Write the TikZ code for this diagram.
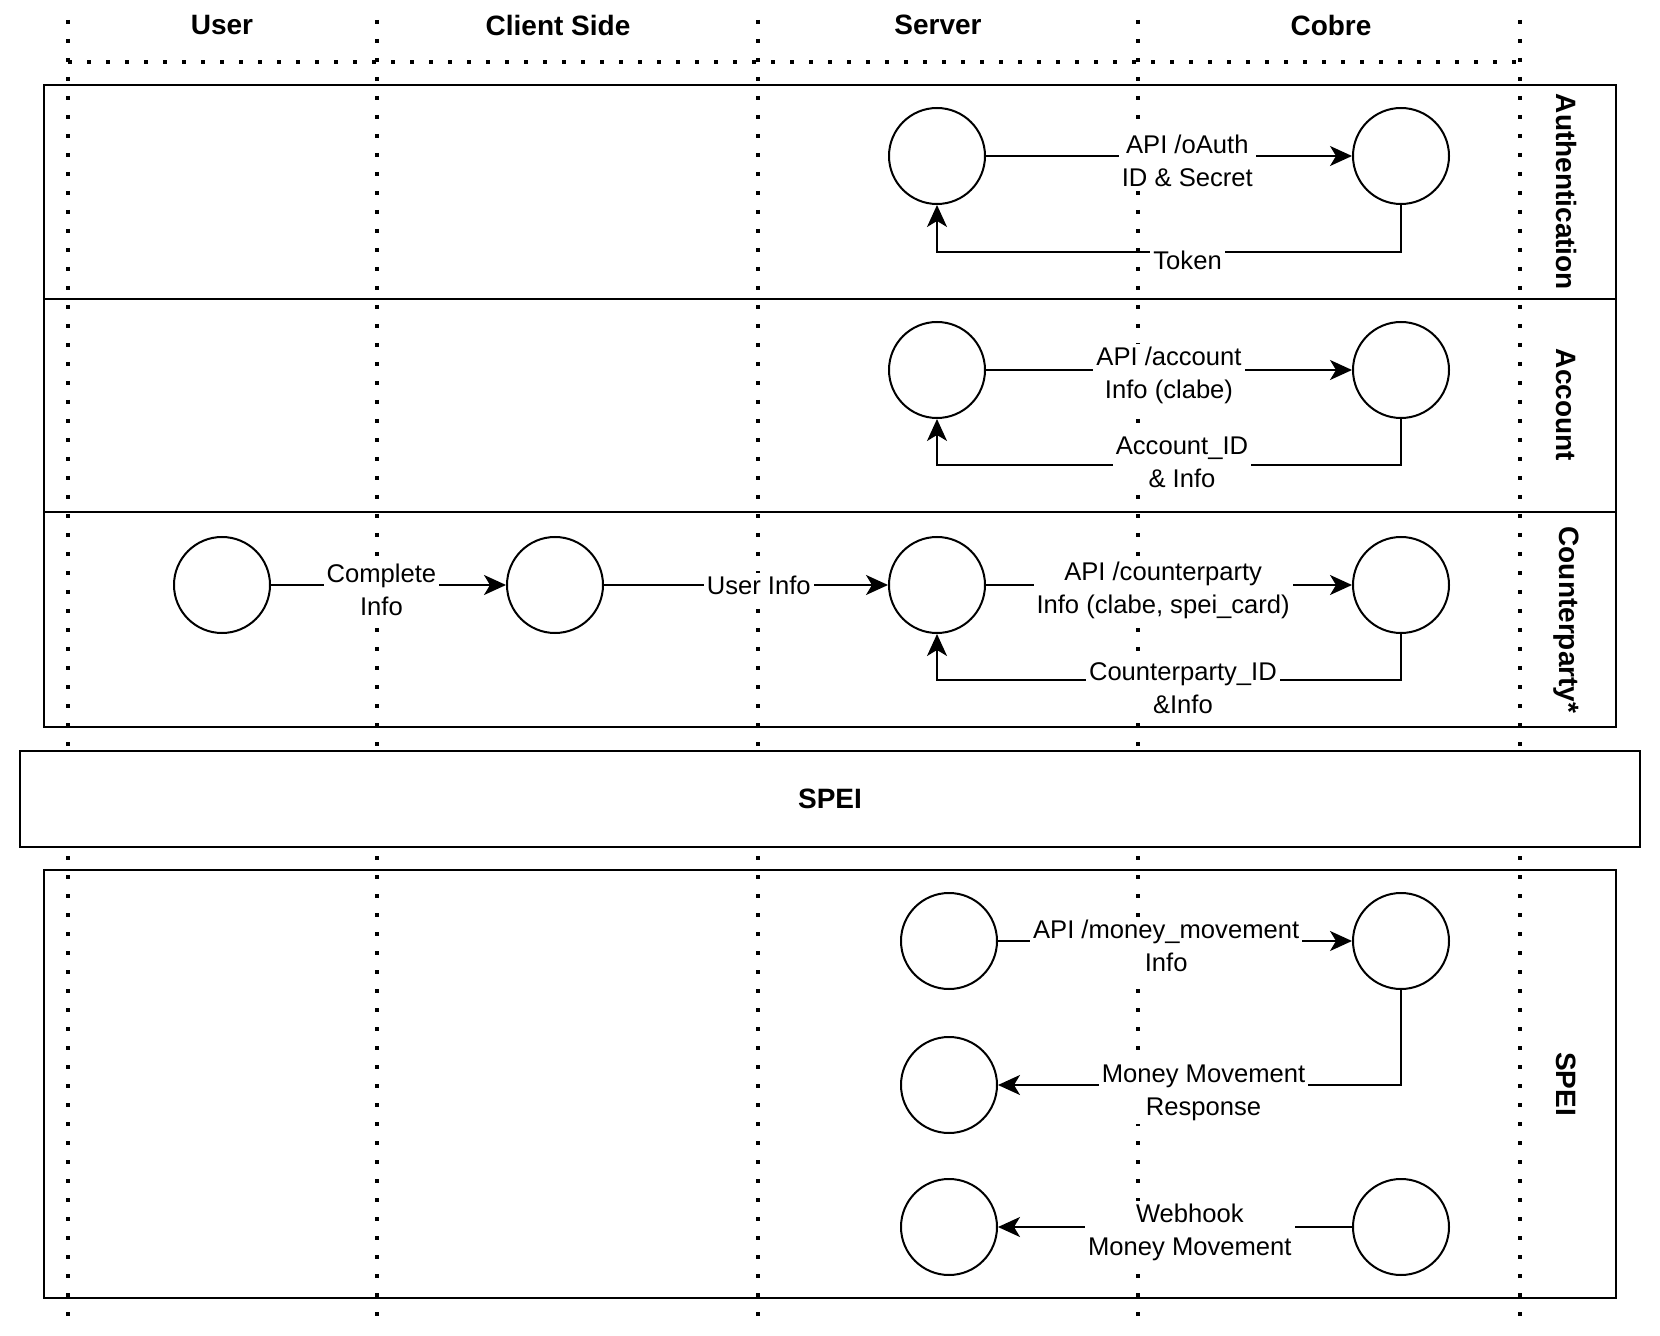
\documentclass[tikz,border=0pt]{standalone}
\usepackage{fontspec}
\setmainfont{Liberation Sans}
\usetikzlibrary{arrows.meta}
\begin{document}
\begin{tikzpicture}[>={Stealth[length=11pt,width=10pt,inset=3pt]},x=0.5pt,y=-0.5pt,line width=1pt,
	lane/.style={line width=2pt,dash pattern=on 2pt off 7.5pt},
	actor/.style={draw,circle,fill=white,minimum size=48pt,inner sep=0pt},
	msg/.style={fill=white,align=center,inner sep=1.5pt,yshift=-2.5pt,font=\fontsize{12.8}{16.5}\selectfont},
	head/.style={font=\bfseries\fontsize{14}{17}\selectfont},
	tag/.style={head,rotate=-90}]
	\useasboundingbox (0,0) rectangle (1660,1336);
	% swimlane separators
	\foreach \x in {68,377,758,1138,1520} \draw[lane] (\x,20)--(\x,1322);
	\draw[lane] (68,62)--(1520,62);
	\node[head] (hUser) at (222,25) {User};
	\node[head] (hClient) at (558,25) {Client Side};
	\node[head] (hServer) at (938,25) {Server};
	\node[head] (hCobre) at (1331,25) {Cobre};
	% phases
	\draw (44,85) rectangle (1616,727) (44,299)--(1616,299) (44,512)--(1616,512);
	\draw (44,870) rectangle (1616,1298);
	\node[draw,fill=white,minimum width=810pt,minimum height=48pt,head] (spei) at (830,799) {SPEI};
	\node[tag] at (1566,192) {Authentication};
	\node[tag] at (1566,405) {Account};
	\node[tag] at (1566,620) {Counterparty*};
	\node[tag] at (1566,1084) {SPEI};
	% authentication
	\node[actor] (sa) at (937,156) {};
	\node[actor] (ca) at (1401,156) {};
	\draw[->] (sa)--node[msg,pos=0.55]{API /oAuth\\ID \& Secret}(ca);
	\draw[->] (ca.south)--++(0,47)-|node[msg,pos=0.23,yshift=-1.5pt]{Token}(sa.south);
	% account
	\node[actor] (sb) at (937,370) {};
	\node[actor] (cb) at (1401,370) {};
	\draw[->] (sb)--node[msg]{API /account\\Info (clabe)}(cb);
	\draw[->] (cb.south)--++(0,46)-|node[msg,pos=0.236,yshift=3.8pt]{Account\_ID\\\& Info}(sb.south);
	% counterparty
	\node[actor] (u) at (222,585) {};
	\node[actor] (cl) at (555,585) {};
	\node[actor] (sc) at (937,585) {};
	\node[actor] (cc) at (1401,585) {};
	\draw[->] (u)--node[msg,pos=0.47]{Complete\\Info}(cl);
	\draw[->] (cl)--node[msg,pos=0.545,yshift=2.5pt]{User Info}(sc);
	\draw[->] (sc)--node[msg,pos=0.484]{API /counterparty\\Info (clabe, spei\_card)}(cc);
	\draw[->] (cc.south)--++(0,46)-|node[msg,pos=0.235,yshift=-1.5pt]{Counterparty\_ID\\\&Info}(sc.south);
	% money movement
	\node[actor] (sd) at (949,941) {};
	\node[actor] (cd) at (1401,941) {};
	\node[actor] (se) at (949,1085) {};
	\node[actor] (sf) at (949,1227) {};
	\node[actor] (cf) at (1401,1227) {};
	\draw[->] (sd)--node[msg,pos=0.475]{API /money\_movement\\Info}(cd);
	\draw[->] (cd.south)|-node[msg,pos=0.745,yshift=-1.5pt]{Money Movement\\Response}(se);
	\draw[->] (cf)--node[msg,pos=0.458]{Webhook\\Money Movement}(sf);
\end{tikzpicture}
\end{document}
